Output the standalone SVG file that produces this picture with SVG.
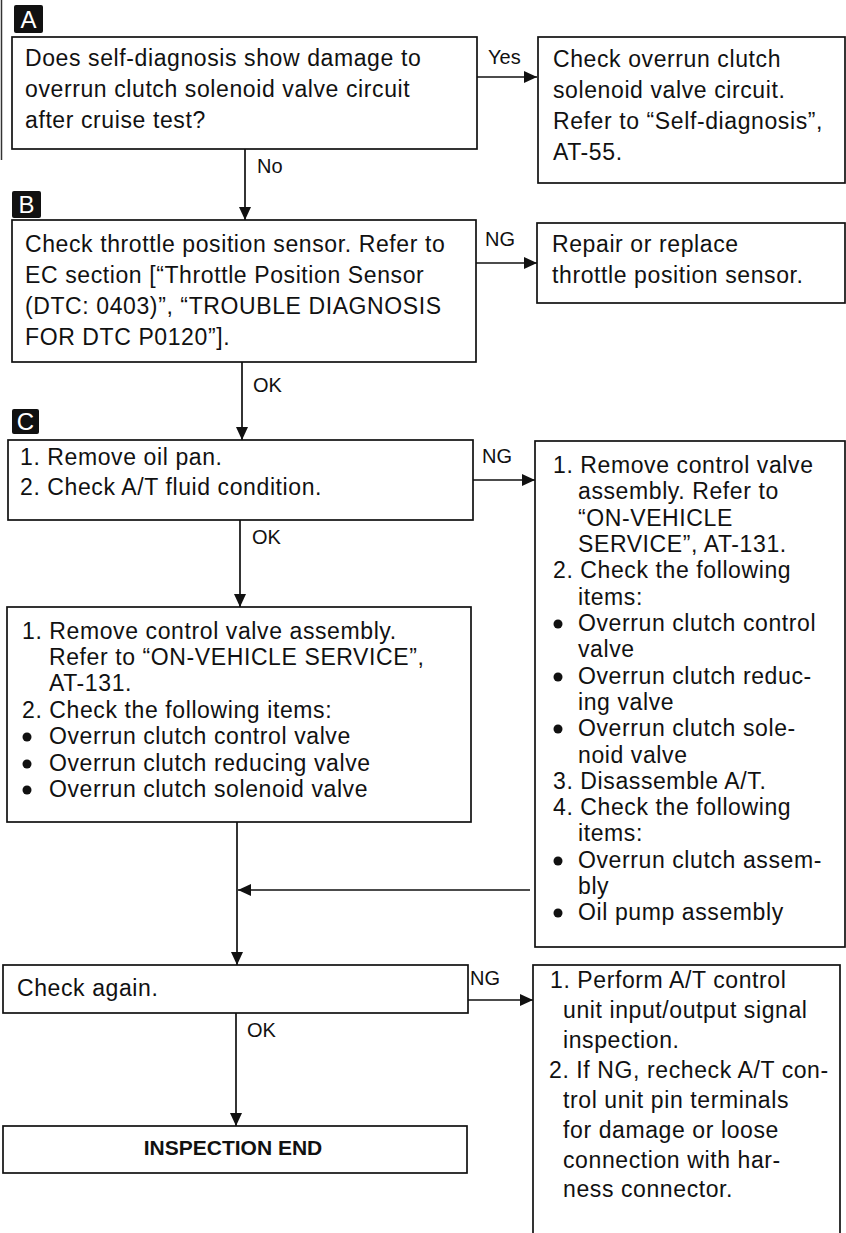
<svg xmlns="http://www.w3.org/2000/svg" width="846" height="1233" viewBox="0 0 846 1233">
<style>
  .box { fill: #fff; stroke: #111; stroke-width: 1.7; }
  .t { font-family: "Liberation Sans", Arial, sans-serif; font-size: 23px; fill: #111; letter-spacing: 0.6px; }
  .lbl { font-family: "Liberation Sans", Arial, sans-serif; font-size: 20px; fill: #111; }
  .tag { fill: #111; }
  .tagt { font-family: "Liberation Sans", Arial, sans-serif; font-size: 24px; fill: #fff; text-anchor: middle; }
  .end { font-family: "Liberation Sans", Arial, sans-serif; font-size: 21px; font-weight: bold; fill: #111; text-anchor: middle; }
  .c { fill: none; stroke: #111; stroke-width: 1.7; }
  .dot { fill: #111; }
</style>
<defs>
  <marker id="ah" viewBox="0 0 13 12" refX="13" refY="6" markerWidth="13" markerHeight="12" markerUnits="userSpaceOnUse" orient="auto">
    <path d="M0,0 L13,6 L0,12 z" fill="#111"/>
  </marker>
</defs>
<rect width="846" height="1233" fill="#fff"/>
<line x1="1.5" y1="0" x2="1.5" y2="160" stroke="#333" stroke-width="1.5"/>

<g id="connectors">
  <line class="c" x1="477" y1="77" x2="537" y2="77" marker-end="url(#ah)"/>
  <line class="c" x1="245" y1="149" x2="245" y2="220" marker-end="url(#ah)"/>
  <line class="c" x1="476" y1="263" x2="537" y2="263" marker-end="url(#ah)"/>
  <line class="c" x1="242" y1="362" x2="242" y2="440" marker-end="url(#ah)"/>
  <line class="c" x1="473" y1="480" x2="535" y2="480" marker-end="url(#ah)"/>
  <line class="c" x1="240" y1="520" x2="240" y2="607" marker-end="url(#ah)"/>
  <line class="c" x1="237" y1="822" x2="237" y2="965" marker-end="url(#ah)"/>
  <line class="c" x1="530" y1="890" x2="238" y2="890" marker-end="url(#ah)"/>
  <line class="c" x1="468" y1="1000" x2="533" y2="1000" marker-end="url(#ah)"/>
  <line class="c" x1="236" y1="1013" x2="236" y2="1126" marker-end="url(#ah)"/>
  <text class="lbl" x="488" y="64">Yes</text>
  <text class="lbl" x="257" y="173">No</text>
  <text class="lbl" x="485" y="246">NG</text>
  <text class="lbl" x="253" y="392">OK</text>
  <text class="lbl" x="482" y="463">NG</text>
  <text class="lbl" x="252" y="544">OK</text>
  <text class="lbl" x="470" y="985">NG</text>
  <text class="lbl" x="247" y="1037">OK</text>
</g>

<g id="tagA">
  <rect class="tag" x="14" y="5" width="29" height="28" rx="2"/>
  <text class="tagt" x="28.5" y="28">A</text>
</g>
<g id="tagB">
  <rect class="tag" x="12" y="191" width="29" height="27" rx="2"/>
  <text class="tagt" x="26.5" y="213">B</text>
</g>
<g id="tagC">
  <rect class="tag" x="12" y="409" width="27" height="25" rx="2"/>
  <text class="tagt" x="25.5" y="430">C</text>
</g>

<g id="nodeA">
  <rect class="box" x="12" y="37" width="465" height="112"/>
  <text class="t" x="25" y="66">Does self-diagnosis show damage to</text>
  <text class="t" x="25" y="97">overrun clutch solenoid valve circuit</text>
  <text class="t" x="25" y="128">after cruise test?</text>
</g>

<g id="nodeA_yes">
  <rect class="box" x="538" y="37" width="307" height="146"/>
  <text class="t" x="553" y="67">Check overrun clutch</text>
  <text class="t" x="553" y="98">solenoid valve circuit.</text>
  <text class="t" x="553" y="129">Refer to “Self-diagnosis”,</text>
  <text class="t" x="553" y="160">AT-55.</text>
</g>

<g id="nodeB">
  <rect class="box" x="12" y="220" width="464" height="142"/>
  <text class="t" x="25" y="252">Check throttle position sensor. Refer to</text>
  <text class="t" x="25" y="283">EC section [“Throttle Position Sensor</text>
  <text class="t" x="25" y="314">(DTC: 0403)”, “TROUBLE DIAGNOSIS</text>
  <text class="t" x="25" y="345">FOR DTC P0120”].</text>
</g>

<g id="nodeB_ng">
  <rect class="box" x="537" y="223" width="308" height="80"/>
  <text class="t" x="552" y="252">Repair or replace</text>
  <text class="t" x="552" y="283">throttle position sensor.</text>
</g>

<g id="nodeC">
  <rect class="box" x="8" y="440" width="465" height="80"/>
  <text class="t" x="20" y="465">1. Remove oil pan.</text>
  <text class="t" x="20" y="495">2. Check A/T fluid condition.</text>
</g>

<g id="nodeC_ng">
  <rect class="box" x="535" y="441" width="310" height="506"/>
  <text class="t" x="553" y="473">1. Remove control valve</text>
  <text class="t" x="578" y="499">assembly. Refer to</text>
  <text class="t" x="578" y="526">“ON-VEHICLE</text>
  <text class="t" x="578" y="552">SERVICE”, AT-131.</text>
  <text class="t" x="553" y="578">2. Check the following</text>
  <text class="t" x="578" y="605">items:</text>
  <circle class="dot" cx="558" cy="624" r="4.5"/>
  <text class="t" x="578" y="631">Overrun clutch control</text>
  <text class="t" x="578" y="657">valve</text>
  <circle class="dot" cx="558" cy="677" r="4.5"/>
  <text class="t" x="578" y="684">Overrun clutch reduc-</text>
  <text class="t" x="578" y="710">ing valve</text>
  <circle class="dot" cx="558" cy="729" r="4.5"/>
  <text class="t" x="578" y="736">Overrun clutch sole-</text>
  <text class="t" x="578" y="763">noid valve</text>
  <text class="t" x="553" y="789">3. Disassemble A/T.</text>
  <text class="t" x="553" y="815">4. Check the following</text>
  <text class="t" x="578" y="841">items:</text>
  <circle class="dot" cx="558" cy="861" r="4.5"/>
  <text class="t" x="578" y="868">Overrun clutch assem-</text>
  <text class="t" x="578" y="894">bly</text>
  <circle class="dot" cx="558" cy="913" r="4.5"/>
  <text class="t" x="578" y="920">Oil pump assembly</text>
</g>

<g id="nodeD">
  <rect class="box" x="7" y="607" width="464" height="215"/>
  <text class="t" x="22" y="639">1. Remove control valve assembly.</text>
  <text class="t" x="49" y="665">Refer to “ON-VEHICLE SERVICE”,</text>
  <text class="t" x="49" y="691">AT-131.</text>
  <text class="t" x="22" y="718">2. Check the following items:</text>
  <circle class="dot" cx="27" cy="737" r="4.5"/>
  <text class="t" x="49" y="744">Overrun clutch control valve</text>
  <circle class="dot" cx="27" cy="764" r="4.5"/>
  <text class="t" x="49" y="771">Overrun clutch reducing valve</text>
  <circle class="dot" cx="27" cy="790" r="4.5"/>
  <text class="t" x="49" y="797">Overrun clutch solenoid valve</text>
</g>

<g id="nodeCheck">
  <rect class="box" x="3" y="965" width="465" height="48"/>
  <text class="t" x="17" y="996">Check again.</text>
</g>

<g id="nodeCheck_ng">
  <rect class="box" x="533" y="965" width="307" height="280"/>
  <text class="t" x="550" y="988">1. Perform A/T control</text>
  <text class="t" x="563" y="1018">unit input/output signal</text>
  <text class="t" x="563" y="1048">inspection.</text>
  <text class="t" x="549" y="1078">2. If NG, recheck A/T con-</text>
  <text class="t" x="563" y="1108">trol unit pin terminals</text>
  <text class="t" x="563" y="1138">for damage or loose</text>
  <text class="t" x="563" y="1168">connection with har-</text>
  <text class="t" x="563" y="1197">ness connector.</text>
</g>

<g id="nodeEnd">
  <rect class="box" x="3" y="1126" width="464" height="47"/>
  <text class="end" x="233" y="1155">INSPECTION END</text>
</g>
</svg>
